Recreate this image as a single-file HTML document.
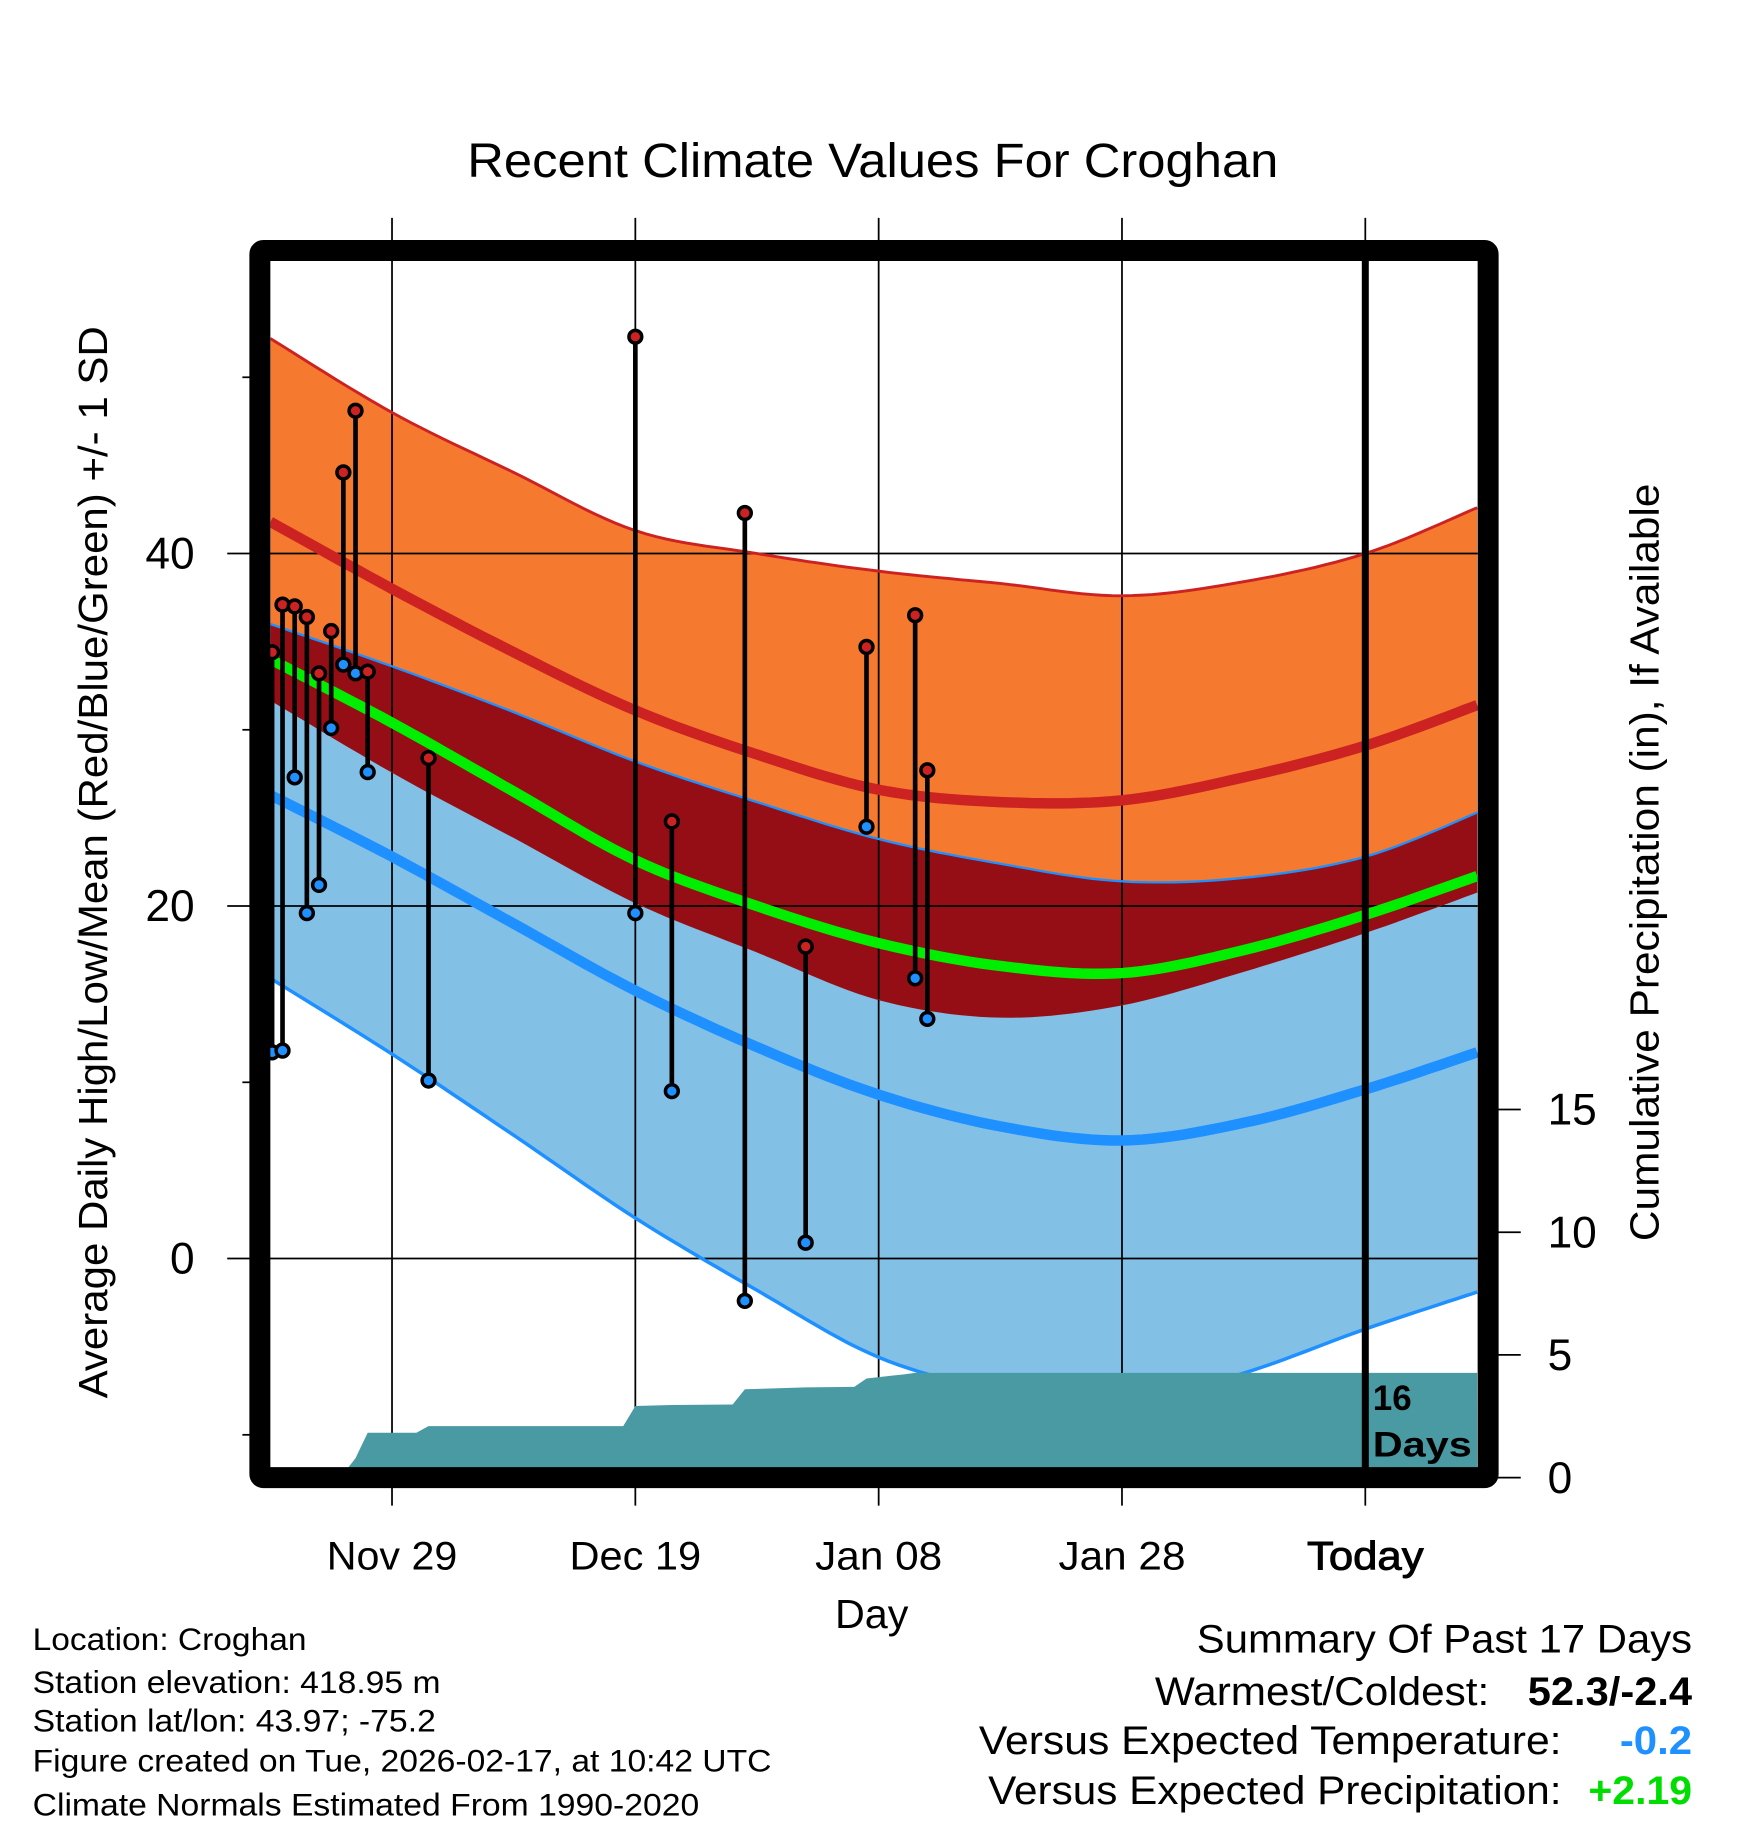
<!DOCTYPE html>
<html><head><meta charset="utf-8"><style>
html,body{margin:0;padding:0;background:#fff;}
svg{display:block;font-family:"Liberation Sans",Arial,sans-serif;}
</style></head><body>
<svg id="chart" width="1748" height="1828" viewBox="0 0 1500 1568.65" xmlns="http://www.w3.org/2000/svg">
<defs><clipPath id="plotclip"><rect x="232" y="224" width="1036" height="1036"/></clipPath></defs>
<text x="749" y="152" font-size="41" text-anchor="middle" textLength="696" lengthAdjust="spacingAndGlyphs">Recent Climate Values For Croghan</text>
<g id="bands" clip-path="url(#plotclip)"></g>
<g id="grid"></g>
<g id="lines" clip-path="url(#plotclip)"></g>
<g id="precip" clip-path="url(#plotclip)"></g>
<g id="obs"></g>
<g id="frame"></g>
<g id="labels"></g>
<text transform="translate(92,740) rotate(-90)" font-size="35" text-anchor="middle" textLength="920" lengthAdjust="spacingAndGlyphs">Average Daily High/Low/Mean (Red/Blue/Green) +/- 1 SD</text>
<text transform="translate(1423,740) rotate(-90)" font-size="35" text-anchor="middle" textLength="650" lengthAdjust="spacingAndGlyphs">Cumulative Precipitation (in), If Available</text>
<text x="748" y="1397" font-size="35" text-anchor="middle" textLength="63" lengthAdjust="spacingAndGlyphs">Day</text>
<text font-size="30" font-weight="bold"><tspan x="1178" y="1210">16</tspan><tspan x="1178" y="1250" textLength="85" lengthAdjust="spacingAndGlyphs">Days</tspan></text>
<g font-size="27">
<text x="28" y="1416" textLength="235" lengthAdjust="spacingAndGlyphs">Location: Croghan</text>
<text x="28" y="1453" textLength="350" lengthAdjust="spacingAndGlyphs">Station elevation: 418.95 m</text>
<text x="28" y="1486" textLength="346" lengthAdjust="spacingAndGlyphs">Station lat/lon: 43.97; -75.2</text>
<text x="28" y="1520" textLength="634" lengthAdjust="spacingAndGlyphs">Figure created on Tue, 2026-02-17, at 10:42 UTC</text>
<text x="28" y="1558" textLength="572" lengthAdjust="spacingAndGlyphs">Climate Normals Estimated From 1990-2020</text>
</g>
<g font-size="34">
<text x="1027" y="1418" textLength="425" lengthAdjust="spacingAndGlyphs">Summary Of Past 17 Days</text>
<text x="991" y="1463" textLength="287" lengthAdjust="spacingAndGlyphs">Warmest/Coldest:</text>
<text x="1311" y="1463" font-weight="bold" textLength="141" lengthAdjust="spacingAndGlyphs">52.3/-2.4</text>
<text x="840" y="1505" textLength="500" lengthAdjust="spacingAndGlyphs">Versus Expected Temperature:</text>
<text x="1390" y="1505" font-weight="bold" fill="#1e90ff" textLength="62" lengthAdjust="spacingAndGlyphs">-0.2</text>
<text x="848" y="1548" textLength="492" lengthAdjust="spacingAndGlyphs">Versus Expected Precipitation:</text>
<text x="1363" y="1548" font-weight="bold" fill="#00dd00" textLength="89" lengthAdjust="spacingAndGlyphs">+2.19</text>
</g>
</svg>
<script>
const nodeDays=[0,10,20,30,40,50,60,70,80,90,99.2];
const highPlus=[52.2,48,44.6,41.3,40,39,38.3,37.6,38.4,40,42.6];
const highMean=[41.8,38,34.4,31.1,28.6,26.6,25.9,26,27.3,29.1,31.4];
const lowPlus=[36,33.6,31,28.2,25.9,23.8,22.4,21.4,21.6,22.8,25.3];
const meanT=[34,30.4,26.5,22.6,20,17.9,16.6,16.2,17.5,19.5,21.7];
const highMinus=[31.7,27.6,23.9,20.2,17.4,14.7,13.7,14.4,16.3,18.5,20.8];
const lowMean=[26.3,22.8,19,15.2,12,9.3,7.5,6.7,7.7,9.6,11.7];
const lowMinus=[15.9,11.6,7,2.3,-1.8,-5.6,-7.5,-8.2,-6.5,-4,-1.9];
const obsDays=[0,1,2,3,4,5,6,7,8,13,30,33,39,44,49,53,54];
const highs=[34.4,37.1,37,36.4,33.2,35.6,44.6,48.1,33.3,28.4,52.3,24.8,42.3,17.7,34.7,36.5,27.7];
const lows=[11.7,11.8,27.3,19.6,21.2,30.1,33.7,33.2,27.6,10.1,19.6,9.5,-2.4,0.9,24.5,15.9,13.6];
const precipDays=[0,5,6,7,8,12,13,29,30,33,38,39,44,48,49,50,51,52,53,99.2];
const precipVals=[0,0,0.15,0.8,1.83,1.83,2.1,2.1,2.92,2.96,2.98,3.6,3.68,3.7,4.04,4.1,4.15,4.2,4.27,4.27];
const yTicks=[40,20,0];
const yMinor=[50,30,10,-10];
const p2Ticks=[0,5,10,15];
const xTickDays=[10,30,50,70,90];
const xTickLabels=["Nov 29","Dec 19","Jan 08","Jan 28","Today"];

const NS="http://www.w3.org/2000/svg";
const X=d=>232+d*10.44;
const Y=t=>1080-t*15.125;
const YP=p=>1268-p*21.06;
function mk(tag,attrs,parent){const e=document.createElementNS(NS,tag);for(const k in attrs)e.setAttribute(k,attrs[k]);parent.appendChild(e);return e;}
function curve(vals){
  const P=nodeDays.map((d,i)=>[X(d),Y(vals[i])]);const out=[];
  for(let i=0;i<P.length-1;i++){
    const p0=P[Math.max(0,i-1)],p1=P[i],p2=P[i+1],p3=P[Math.min(P.length-1,i+2)];
    for(let s=0;s<12;s++){const t=s/12,t2=t*t,t3=t2*t;
      const f=(a,b,c,d)=>0.5*((2*b)+(-a+c)*t+(2*a-5*b+4*c-d)*t2+(-a+3*b-3*c+d)*t3);
      out.push([f(p0[0],p1[0],p2[0],p3[0]),f(p0[1],p1[1],p2[1],p3[1])]);}
  }
  out.push(P[P.length-1]);return out;
}
const pstr=pts=>pts.map((p,i)=>(i?"L":"M")+p[0].toFixed(1)+","+p[1].toFixed(1)).join("");
function band(top,bot,fill,name,g){
  const a=curve(top),b=curve(bot).reverse();
  const el=mk("path",{d:pstr(a.concat(b))+"Z",fill:fill},g);
  
  
}
const bands=document.getElementById('bands');
band(highPlus,highMinus,"#f5792e","high-sd-band",bands);
band(lowPlus,lowMinus,"#82c0e6","low-sd-band",bands);
band(lowPlus,highMinus,"#960e15","overlap-band",bands);

const grid=document.getElementById('grid');
yTicks.forEach(t=>{const l=mk("line",{x1:195,x2:1268,y1:Y(t),y2:Y(t),stroke:"#000","stroke-width":1.5},grid);
  
  });
yMinor.forEach(t=>{const l=mk("line",{x1:208,x2:216,y1:Y(t),y2:Y(t),stroke:"#000","stroke-width":1.5},grid);
  
  });
xTickDays.forEach((d,i)=>{const l=mk("line",{x1:X(d),x2:X(d),y1:187,y2:1292,stroke:"#000","stroke-width":1.5},grid);
  
  });
p2Ticks.forEach(p=>{const l=mk("line",{x1:1280,x2:1305,y1:YP(p),y2:YP(p),stroke:"#000","stroke-width":1.5},grid);
  
  });

const lines=document.getElementById('lines');
function ln(vals,color,w,name){const el=mk("path",{d:pstr(curve(vals)),fill:"none",stroke:color,"stroke-width":w},lines);
  
  }
ln(highPlus,"#cc2222",2.5,"high-plus-sd-line");
ln(highMinus,"#960e15",1,"high-minus-sd-line");
ln(lowPlus,"#1e90ff",2,"low-plus-sd-line");
ln(lowMinus,"#1e90ff",3,"low-minus-sd-line");
ln(highMean,"#cc2222",9,"mean-high-line");
ln(lowMean,"#1e90ff",9,"mean-low-line");
ln(meanT,"#00ee00",9,"mean-temp-line");

const pg=document.getElementById('precip');
let pts=precipDays.map((d,i)=>[X(d),YP(precipVals[i])]);
const pa=mk("path",{d:pstr(pts)+"L"+X(precipDays[precipDays.length-1])+",1270L"+X(0)+",1270Z",fill:"#4a9aa4"},pg);



const og=document.getElementById('obs');
const tl=mk("line",{x1:X(90),x2:X(90),y1:215,y2:1262,stroke:"#000","stroke-width":6},og);



obsDays.forEach((d,i)=>{
  const x=Math.max(X(d),233.5);
  const b=mk("line",{x1:x,x2:x,y1:Y(highs[i]),y2:Y(lows[i]),stroke:"#000","stroke-width":4},og);
  
  
  const c1=mk("circle",{cx:x,cy:Y(highs[i]),r:5.5,fill:"#cc2222",stroke:"#000","stroke-width":3},og);
  
  
  const c2=mk("circle",{cx:x,cy:Y(lows[i]),r:5.5,fill:"#1e90ff",stroke:"#000","stroke-width":3},og);
  
  
});

const fr=mk("rect",{x:223,y:215,width:1054,height:1053,fill:"none",stroke:"#000","stroke-width":18,"stroke-linejoin":"round",rx:3},document.getElementById('frame'));



const lg=document.getElementById('labels');
yTicks.forEach(t=>{const e=mk("text",{x:167,y:Y(t)+13,"font-size":38,"text-anchor":"end"},lg);e.textContent=t;
  
  });
p2Ticks.forEach(p=>{const e=mk("text",{x:1328,y:YP(p)+13,"font-size":38},lg);e.textContent=p;
  
  });
const xLens=[112,113,109,109,100];
xTickDays.forEach((d,i)=>{const e=mk("text",{x:X(d),y:1347,"font-size":34,"text-anchor":"middle",textLength:xLens[i],lengthAdjust:"spacingAndGlyphs"},lg);e.textContent=xTickLabels[i];
  if(xTickLabels[i]==="Today")e.setAttribute('stroke','#000'),e.setAttribute('stroke-width','0.8');
  
  });
</script>
</body></html>
